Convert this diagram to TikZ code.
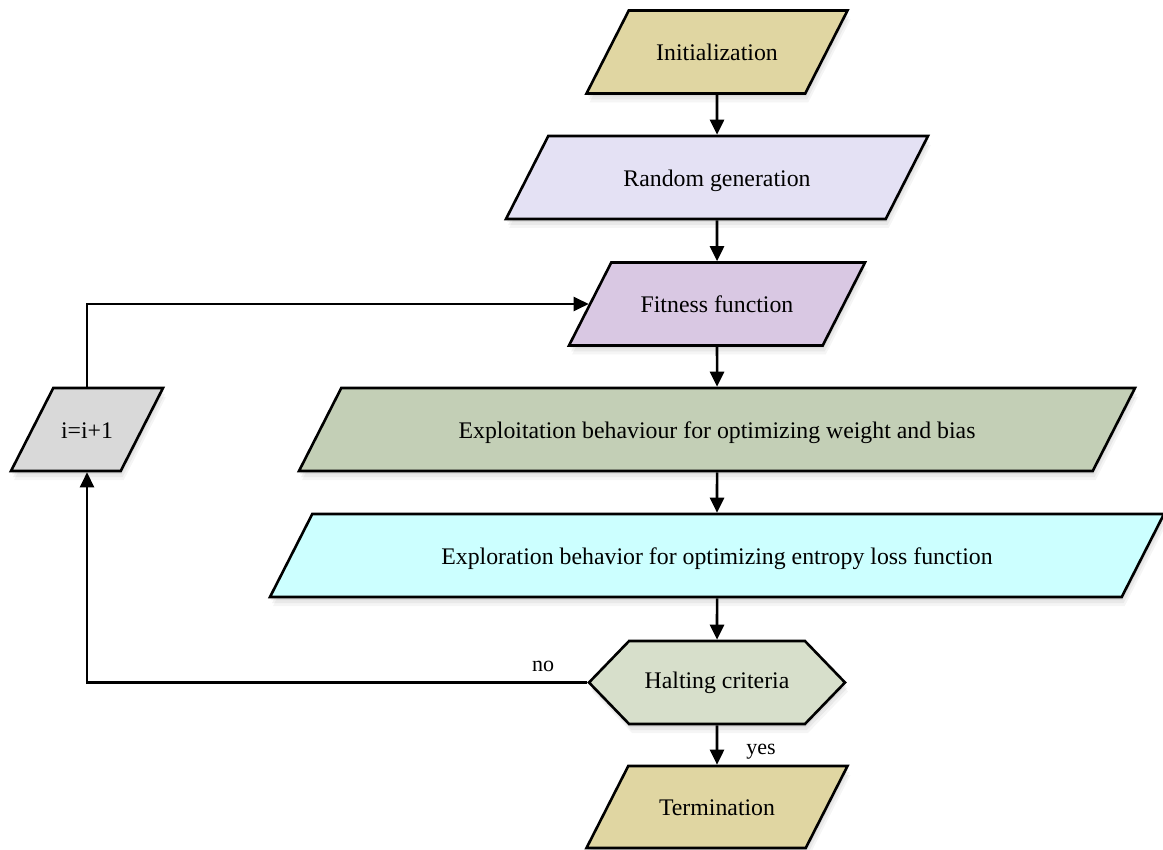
\documentclass[tikz,border=0pt]{standalone}
\usepackage{fontspec}
\setmainfont{Liberation Serif}
\usetikzlibrary{shapes.geometric,shapes.symbols,arrows.meta}
\definecolor{cInit}{HTML}{E0D6A2}
\definecolor{cRand}{HTML}{E4E1F4}
\definecolor{cFit}{HTML}{D9C8E3}
\definecolor{cExpA}{HTML}{C3CFB6}
\definecolor{cExpB}{HTML}{CCFFFF}
\definecolor{cHalt}{HTML}{D7DFCB}
\definecolor{cInc}{HTML}{D9D9D9}
\begin{document}
\begin{tikzpicture}[x=1pt,y=-1pt,
  shadowed/.style={
    preaction={fill=black,opacity=0.06,transform canvas={yshift=-3pt,xshift=1pt}},
    preaction={fill=black,opacity=0.05,transform canvas={yshift=-6pt,xshift=2pt}},
    preaction={fill=black,opacity=0.04,transform canvas={yshift=-9pt,xshift=3pt}}},
  txt/.style={font=\fontsize{23.8}{28}\selectfont},
  para/.style={trapezium, trapezium left angle=63, trapezium right angle=117,
    trapezium stretches body, draw=black, line width=2.6pt, inner sep=0pt,
    text height=50.5pt, text depth=32.5pt, txt, shadowed},
  hexa/.style={signal, signal to=west and east, signal pointer angle=92,
    draw=black, line width=2.6pt, inner sep=0pt, minimum height=83pt,
    minimum width=256pt, txt, shadowed},
  arr/.style={draw=black, line width=2.6pt, -{Triangle[length=15pt,width=14pt]}},
  lbl/.style={font=\fontsize{22}{26}\selectfont}]
\useasboundingbox (0,0) rectangle (1163,850);

\node[para, fill=cInit, minimum width=261pt] (init) at (717,52) {Initialization};
\node[para, fill=cRand, minimum width=422pt] (rand) at (717,177.5) {Random generation};
\node[para, fill=cFit, minimum width=296pt] (fit) at (717,304) {Fitness function};
\node[para, fill=cExpA, minimum width=836pt] (expa) at (717,429.5) {Exploitation behaviour for optimizing weight and bias};
\node[para, fill=cExpB, minimum width=894pt] (expb) at (717,555.5) {Exploration behavior for optimizing entropy loss function};
\node[hexa, fill=cHalt] (halt) at (717,682.5) {Halting criteria};
\node[para, fill=cInit, minimum width=261pt, text height=49.5pt] (term) at (717,807) {Termination};
\node[para, fill=cInc, minimum width=152pt] (inc) at (87,429.5) {i=i+1};

\draw[arr] (init) -- (rand);
\draw[arr] (rand) -- (fit);
\draw[arr] (fit) -- (expa);
\draw[arr] (expa) -- (expb);
\draw[arr] (expb) -- (halt);
\draw[arr] (halt) -- (term);
\draw[arr] (halt) -| (inc);
\draw[arr] (inc) |- (fit);

\node[lbl] (no) at (543,666) {no};
\node[lbl] (yes) at (761,752) {yes};
\end{tikzpicture}
\end{document}
